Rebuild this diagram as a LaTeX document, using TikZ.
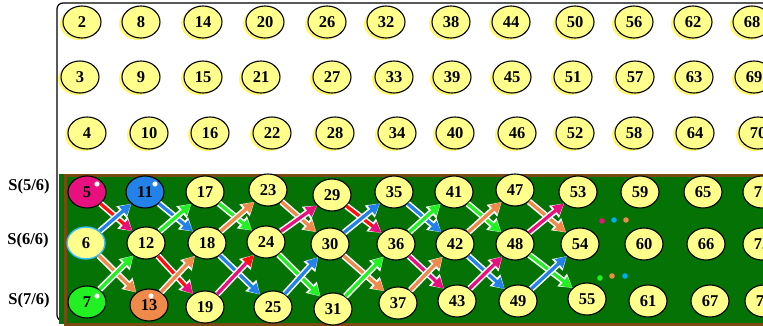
\documentclass[tikz,border=0pt]{standalone}
\usepackage{fontspec}
\setmainfont{Liberation Serif}
\usepackage{tikz}
\usetikzlibrary{arrows.meta,shapes.geometric}

\definecolor{ballyellow}{HTML}{FFFF8C}
\definecolor{haloyellow}{HTML}{FFF870}
\definecolor{boardgreen}{HTML}{047204}
\definecolor{framebrown}{HTML}{7B4A12}
\definecolor{arrpink}{HTML}{E8107E}
\definecolor{arrred}{HTML}{FF1010}
\definecolor{arrblue}{HTML}{2282EA}
\definecolor{arrgreen}{HTML}{22F022}
\definecolor{arrorange}{HTML}{F08A4A}

\begin{document}
\begin{tikzpicture}[
  x=1pt, y=-1pt,
  ball/.style={ellipse, draw, line width=1.1pt, fill=ballyellow, minimum width=38pt,
    minimum height=32pt, inner sep=0pt, font=\fontsize{16.5}{16.5}\bfseries},
  halo/.style={ball, preaction={fill=haloyellow, transform canvas={shift={(-3pt,-2pt)}}}},
  rowlabel/.style={font=\fontsize{16.5}{16.5}\bfseries, anchor=center},
  mixlink/.style 2 args={draw=#1, line width=3.3pt, -{Triangle[length=11pt,width=11pt,color=#2]},
    preaction={draw=white, line width=6.4pt, -{Triangle[length=13pt,width=15pt]}}},
  link/.style={mixlink={#1}{#1}}]
  \useasboundingbox (0,0) rectangle (763,326);
  \clip (0,0) rectangle (763,326);
  % frames
  \draw[line width=1.2pt, rounded corners=6pt, fill=white] (57,3) rectangle (800,321);
  \fill[boardgreen] (58.6,174) rectangle (800,324);
  \draw[framebrown, line width=3pt] (65,175.5) rectangle (800,324.5);
  % upper grid
  \foreach \c/\xa/\xb/\xc in {0/82/80/87, 1/141/141/149, 2/203/203/210, 3/265/261/272,
      4/327/332/335, 5/386/394/397, 6/451/452/455, 7/511/512/517, 8/575/573/575,
      9/634/635/634, 10/693/694/695, 11/752/754/758} {
    \pgfmathtruncatemacro\na{2+6*\c}
    \pgfmathtruncatemacro\nb{3+6*\c}
    \pgfmathtruncatemacro\nc{4+6*\c}
    \node[halo] (n\na) at (\xa,22) {\na};
    \node[halo] (n\nb) at (\xb,77) {\nb};
    \node[halo] (n\nc) at (\xc,133) {\nc};
  }
  % row labels
  \node[rowlabel] (s5) at (29,187) {S(5/6)};
  \node[rowlabel] (s6) at (28,241) {S(6/6)};
  \node[rowlabel] (s7) at (29,301) {S(7/6)};
  % lower board
  \node[ball, fill=arrpink] (n5) at (87,192) {5};
  \node[ball, draw=cyan!80, line width=1.4pt] (n6) at (86,243) {6};
  \node[ball, fill=arrgreen] (n7) at (87,302) {7};
  \node[ball, fill=arrblue] (n11) at (145,192) {11};
  \node[ball] (n12) at (146,243) {12};
  \node[ball, fill=arrorange] (n13) at (149,305) {13};
  \node[ball] (n17) at (205,192) {17};
  \node[ball] (n18) at (207,243) {18};
  \node[ball] (n19) at (205,307) {19};
  \node[ball] (n23) at (268,190) {23};
  \node[ball] (n24) at (266,242) {24};
  \node[ball] (n25) at (273,307) {25};
  \node[ball] (n29) at (332,195) {29};
  \node[ball] (n30) at (330,244) {30};
  \node[ball] (n31) at (333,309) {31};
  \node[ball] (n35) at (394,192) {35};
  \node[ball] (n36) at (396,244) {36};
  \node[ball] (n37) at (398,303) {37};
  \node[ball] (n41) at (454,192) {41};
  \node[ball] (n42) at (455,244) {42};
  \node[ball] (n43) at (457,301) {43};
  \node[ball] (n47) at (515,190) {47};
  \node[ball] (n48) at (515,244) {48};
  \node[ball] (n49) at (518,301) {49};
  \node[ball] (n53) at (578,192) {53};
  \node[ball] (n54) at (580,244) {54};
  \node[ball] (n55) at (587,299) {55};
  \node[ball] (n59) at (640,192) {59};
  \node[ball] (n60) at (644,244) {60};
  \node[ball] (n61) at (648,301) {61};
  \node[ball] (n65) at (703,192) {65};
  \node[ball] (n66) at (706,244) {66};
  \node[ball] (n67) at (710,301) {67};
  \node[ball] (n71) at (762,192) {71};
  \node[ball] (n72) at (762,244) {72};
  \node[ball] (n73) at (764,301) {73};
  % shine on the coloured balls
  \fill[white] (n5.center) ++(10,-8) circle (2.6pt);
  \fill[white] (n11.center) ++(10,-8) circle (2.6pt);
  \fill[white] (n7.center) ++(10,-6) circle (2.6pt);
  \fill[white] (n13.center) ++(2,-9) circle (2.6pt);
  % moves
  \draw[mixlink={arrred}{arrpink}] (n5) -- (n12);
  \draw[link=arrblue] (n6) -- (n11);
  \draw[link=arrorange] (n6) -- (n13);
  \draw[link=arrgreen] (n7) -- (n12);
  \draw[link=arrblue] (n11) -- (n18);
  \draw[link=arrgreen] (n12) -- (n17);
  \draw[mixlink={arrred}{arrpink}] (n12) -- (n19);
  \draw[link=arrorange] (n13) -- (n18);
  \draw[link=arrgreen] (n17) -- (n24);
  \draw[link=arrorange] (n18) -- (n23);
  \draw[link=arrblue] (n18) -- (n25);
  \draw[mixlink={arrpink}{arrred}] (n19) -- (n24);
  \draw[link=arrorange] (n23) -- (n30);
  \draw[link=arrpink] (n24) -- (n29);
  \draw[link=arrgreen] (n24) -- (n31);
  \draw[link=arrblue] (n25) -- (n30);
  \draw[mixlink={arrred}{arrpink}] (n29) -- (n36);
  \draw[link=arrblue] (n30) -- (n35);
  \draw[link=arrorange] (n30) -- (n37);
  \draw[link=arrgreen] (n31) -- (n36);
  \draw[link=arrblue] (n35) -- (n42);
  \draw[link=arrgreen] (n36) -- (n41);
  \draw[link=arrpink] (n36) -- (n43);
  \draw[link=arrorange] (n37) -- (n42);
  \draw[link=arrgreen] (n41) -- (n48);
  \draw[link=arrorange] (n42) -- (n47);
  \draw[link=arrblue] (n42) -- (n49);
  \draw[link=arrpink] (n43) -- (n48);
  \draw[link=arrorange] (n47) -- (n54);
  \draw[link=arrpink] (n48) -- (n53);
  \draw[link=arrgreen] (n48) -- (n55);
  \draw[link=arrblue] (n49) -- (n54);
  % dots
  \fill[arrpink] (602,221) circle (2.8pt);
  \fill[cyan] (614,220) circle (2.8pt);
  \fill[arrorange] (626,220) circle (2.8pt);
  \fill[arrgreen] (600,278) circle (2.8pt);
  \fill[arrorange] (612,276) circle (2.8pt);
  \fill[cyan] (625,276) circle (2.8pt);
\end{tikzpicture}
\end{document}
